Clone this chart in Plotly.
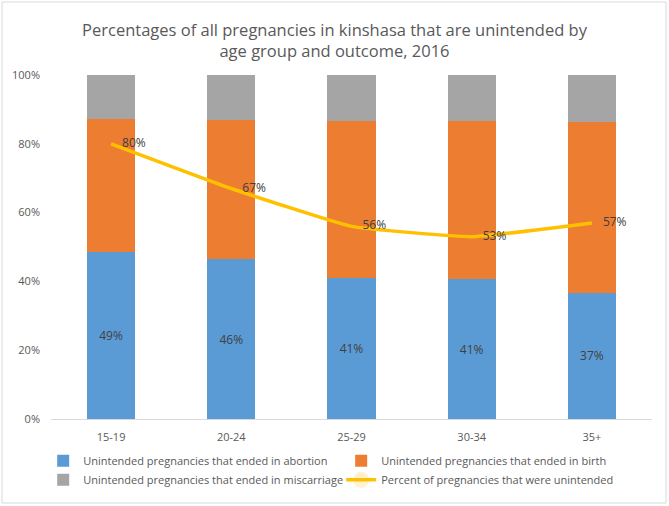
import plotly.graph_objects as go

age_groups = ["15-19", "20-24", "25-29", "30-34", "35+"]
abortion = [48.6, 46.4, 41.1, 40.6, 36.7]
birth = [38.6, 40.5, 45.5, 46.0, 49.5]
miscarriage = [12.8, 13.1, 13.4, 13.4, 13.8]
pct_unintended = [80, 67, 56, 53, 57]
abortion_labels = ["49%", "46%", "41%", "41%", "37%"]
unintended_labels = ["80%", "67%", "56%", "53%", "57%"]
y_ticks = [0, 20, 40, 60, 80, 100]
y_tick_labels = ["0%", "20%", "40%", "60%", "80%", "100%"]

FONT = "Open Sans"
TXT = "#595959"

fig = go.Figure()
fig.add_trace(go.Bar(
    x=age_groups, y=abortion, name="Unintended pregnancies that ended in abortion",
    marker=dict(color="#5B9BD5", line=dict(width=0)),
    text=abortion_labels, textposition="inside", insidetextanchor="middle",
    textfont=dict(color="#404040", size=12, family=FONT), hoverinfo="skip"))
fig.add_trace(go.Bar(
    x=age_groups, y=birth, name="Unintended pregnancies that ended in birth",
    marker=dict(color="#ED7D31", line=dict(width=0)), hoverinfo="skip"))
fig.add_trace(go.Bar(
    x=age_groups, y=miscarriage, name="Unintended pregnancies that ended in miscarriage",
    marker=dict(color="#A5A5A5", line=dict(width=0)), hoverinfo="skip"))
fig.add_trace(go.Scatter(
    x=age_groups, y=pct_unintended, name="Percent of pregnancies that were unintended",
    mode="lines+markers+text", line=dict(color="#FFC000", width=3.5, shape="spline", smoothing=0.35),
    marker=dict(size=16, opacity=0, color="#FFC000"),
    text=unintended_labels, textposition="middle right",
    textfont=dict(color="#404040", size=12, family=FONT), hoverinfo="skip"))

fig.update_layout(
    width=669, height=506,
    margin=dict(l=51, r=17, t=75, b=87, autoexpand=False),
    barmode="stack", bargap=0.6,
    paper_bgcolor="white", plot_bgcolor="white",
    font=dict(family=FONT, color=TXT, size=12),
    title=dict(
        text="Percentages of all pregnancies in kinshasa that are unintended by<br>age group and outcome, 2016",
        x=0.5, xanchor="center", yref="container", y=1 - 36 / 506, yanchor="middle",
        font=dict(size=16.5, color=TXT, family=FONT)),
    xaxis=dict(showgrid=False, showline=True, linecolor="#D9D9D9", linewidth=1,
               ticks="", ticklabelstandoff=8, tickfont=dict(size=11, color=TXT)),
    yaxis=dict(range=[0, 100], tickvals=y_ticks, ticktext=y_tick_labels,
               showgrid=False, zeroline=False, showline=False, ticks="",
               ticklabelstandoff=10, tickfont=dict(size=11, color=TXT)),
    legend=dict(orientation="h", x=-0.013, xanchor="left", y=-0.079, yanchor="top",
                entrywidth=253, entrywidthmode="pixels", traceorder="normal",
                font=dict(size=11, color=TXT, family=FONT), itemwidth=30,
                tracegroupgap=0),
    shapes=[dict(type="rect", xref="paper", yref="paper",
                 x0=(2 - 51) / 601, x1=(666 - 51) / 601,
                 y0=(419 - 503) / 344, y1=(419 - 2) / 344,
                 line=dict(color="#D9D9D9", width=1), fillcolor="rgba(0,0,0,0)", layer="below")],
)

fig.write_html("out.html", config={"displayModeBar": False},
               post_script="document.body.style.margin='0';")
